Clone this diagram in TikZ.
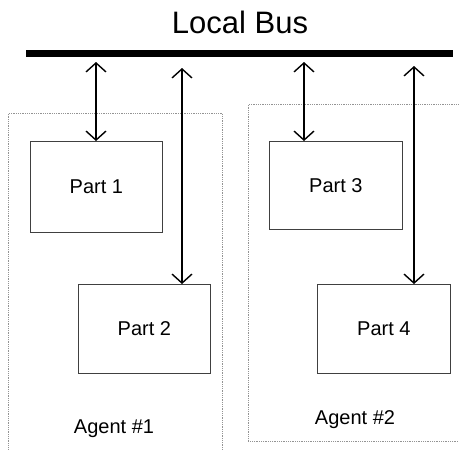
\documentclass[tikz,border=0pt]{standalone}
\usepackage{fontspec}
\setmainfont{Liberation Sans}
\usetikzlibrary{arrows.meta}
\begin{document}
\begin{tikzpicture}[x=1pt,y=-1pt,
  agentbox/.style={draw=gray!85, densely dotted, line width=0.8pt, rectangle, anchor=north west, inner sep=0pt},
  partbox/.style={draw=black!75, line width=0.8pt, rectangle, inner sep=0pt, font=\fontsize{20}{24}\selectfont},
  lbl/.style={inner sep=0pt, anchor=base, font=\fontsize{20}{24}\selectfont},
  link/.style={line width=1.4pt, {Straight Barb[length=9pt,width=20pt,line width=1.4pt]}-{Straight Barb[length=9pt,width=20pt,line width=1.4pt]}}
]
\useasboundingbox (0,0) rectangle (459,450);
\clip (0,0) rectangle (459,450);
% bus
\node[fill=black, inner sep=0pt, minimum width=427pt, minimum height=7pt, anchor=west] (bus) at (26,53) {};
\node[inner sep=0pt, anchor=base, font=\fontsize{31}{37}\selectfont] (title) at (240,33) {Local Bus};
% agents
\node[agentbox, minimum width=214pt, minimum height=360pt] (ag1) at (8,113) {};
\node[agentbox, minimum width=230pt, minimum height=337pt] (ag2) at (248,104) {};
% parts
\node[partbox, minimum width=132pt, minimum height=91pt, anchor=north west] (p1) at (30,141) {Part 1};
\node[partbox, minimum width=132pt, minimum height=89pt, anchor=north west] (p2) at (78,284) {Part 2};
\node[partbox, minimum width=133pt, minimum height=88pt, anchor=north west] (p3) at (269,141) {Part 3};
\node[partbox, minimum width=133pt, minimum height=89pt, anchor=north west] (p4) at (317,284) {Part 4};
% agent labels
\node[lbl] (a1) at (114,433) {Agent \#1};
\node[lbl] (a2) at (355,424) {Agent \#2};
% arrow ends
\coordinate (t1) at (96,62);
\coordinate (t2) at (182,68);
\coordinate (t3) at (304,62);
\coordinate (t4) at (414,66);
\draw[link] (t1) -- (t1 |- p1.north);
\draw[link] (t2) -- (t2 |- p2.north);
\draw[link] (t3) -- (t3 |- p3.north);
\draw[link] (t4) -- (t4 |- p4.north);
\end{tikzpicture}
\end{document}
